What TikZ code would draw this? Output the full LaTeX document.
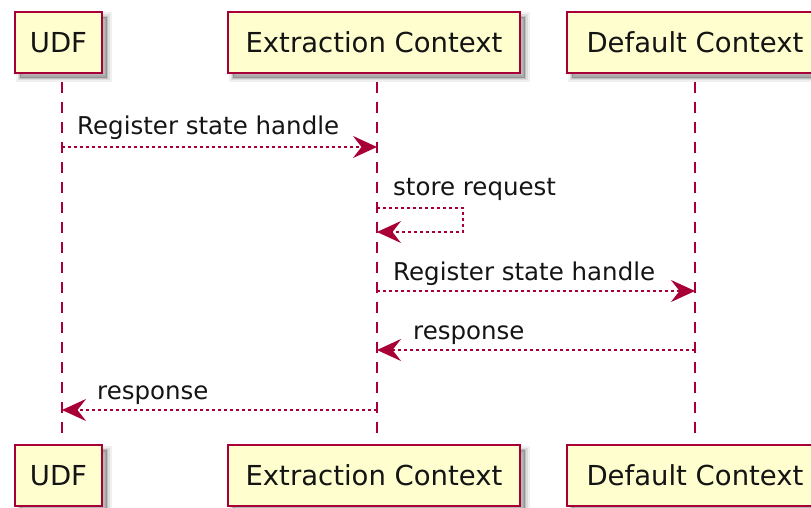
\documentclass[tikz,border=0pt]{standalone}
\usepackage{fontspec}
\setmainfont{DejaVu Sans}
\usetikzlibrary{arrows.meta}
\definecolor{umlred}{HTML}{A80036}
\definecolor{umlfill}{HTML}{FEFECE}
\definecolor{umltext}{HTML}{141414}
\tikzset{
  softshadow/.style={
    preaction={fill=black, opacity=0.06, draw=black, line width=9pt, transform canvas={shift={(5pt,-5pt)}}},
    preaction={fill=black, opacity=0.08, draw=black, line width=5pt, transform canvas={shift={(5pt,-5pt)}}},
    preaction={fill=black, opacity=0.12, draw=black, line width=1.5pt, transform canvas={shift={(5pt,-5pt)}}}
  },
  participant/.style={softshadow, draw=umlred, fill=umlfill, line width=1.5pt,
    minimum height=61pt, inner sep=0pt, text=umltext,
    font=\fontsize{27.5}{30}\selectfont},
  lifeline/.style={draw=umlred, line width=1.5pt, dash pattern=on 11pt off 9pt},
  msg/.style={draw=umlred, line width=1.3pt, dash pattern=on 3pt off 3pt,
    -{Stealth[length=24pt, width=22pt, inset=8.5pt, fill=umlred]}},
  msglabel/.style={anchor=base west, inner sep=0pt, text=umltext,
    font=\fontsize{24.5}{27}\selectfont}
}
\begin{document}
\begin{tikzpicture}[x=1pt, y=-1pt]
  \useasboundingbox (0,0) rectangle (811,508);
  \clip (0,0) rectangle (811,508);

  % participants, top and bottom
  \node[participant, minimum width=87pt]  (udf)  at (58.5,42.5)  {UDF};
  \node[participant, minimum width=292pt] (ext)  at (374,42.5)   {Extraction Context};
  \node[participant, minimum width=256pt] (dflt) at (695,42.5)   {Default Context};
  \node[participant, minimum width=87pt]  (udfb)  at (58.5,475.5) {UDF};
  \node[participant, minimum width=292pt] (extb)  at (374,475.5)  {Extraction Context};
  \node[participant, minimum width=256pt] (dfltb) at (695,475.5)  {Default Context};

  % lifelines
  \draw[lifeline, shorten <=8pt, shorten >=8pt] ([xshift=3.5pt]udf.south) -- ([xshift=3.5pt]udfb.north);
  \draw[lifeline, shorten <=8pt, shorten >=8pt] ([xshift=3pt]ext.south) -- ([xshift=3pt]extb.north);
  \draw[lifeline, shorten <=8pt, shorten >=8pt] (dflt.south) -- (dfltb.north);

  % message end points on the lifelines
  \coordinate (u1) at (62,147);   \coordinate (e1) at (377,147);
  \coordinate (e2a) at (377,208); \coordinate (s2a) at (463,208);
  \coordinate (s2b) at (463,232); \coordinate (e2b) at (377,232);
  \coordinate (e3) at (377,291);  \coordinate (d3) at (695,291);
  \coordinate (d4) at (695,350);  \coordinate (e4) at (377,350);
  \coordinate (e5) at (377,410);  \coordinate (u5) at (62,410);

  % messages
  \draw[msg] (u1) -- (e1);
  \node[msglabel] (l1) at (77,135) {Register state handle};

  \draw[msg] (e2a) -- (s2a) -- (s2b) -- (e2b);
  \node[msglabel] (l2) at (393,195) {store request};

  \draw[msg] (e3) -- (d3);
  \node[msglabel] (l3) at (393,280) {Register state handle};

  \draw[msg] (d4) -- (e4);
  \node[msglabel] (l4) at (413,339) {response};

  \draw[msg] (e5) -- (u5);
  \node[msglabel] (l5) at (97,399) {response};
\end{tikzpicture}
\end{document}
